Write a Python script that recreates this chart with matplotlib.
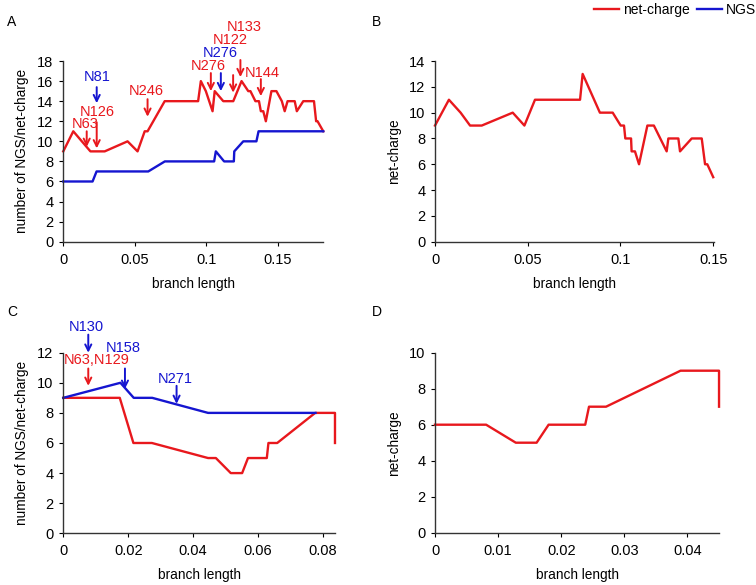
import matplotlib

matplotlib.use("Agg")
import matplotlib.pyplot as plt

plt.rcParams.update(
    {
        "font.family": ["Liberation Sans", "DejaVu Sans"],
        "font.size": 10,
        "axes.spines.top": False,
        "axes.spines.right": False,
        "axes.edgecolor": "#333333",
        "axes.linewidth": 1.0,
        "xtick.major.size": 3,
        "ytick.major.size": 3,
        "xtick.major.pad": 5,
        "ytick.major.pad": 4,
        "xtick.labelsize": 10.5,
        "ytick.labelsize": 10.5,
        "axes.labelsize": 9.8,
    }
)

RED = "#E8181D"
BLUE = "#1515D0"

# ---- panel A ----
a_charge_x = [0, 0.007, 0.013, 0.019, 0.029, 0.045, 0.052, 0.057, 0.059, 0.071, 0.0944,
              0.0963, 0.0998, 0.1045, 0.106, 0.112, 0.119, 0.1248, 0.1295, 0.131, 0.1345,
              0.137, 0.1383, 0.140, 0.1418, 0.1457, 0.1492, 0.153, 0.155, 0.157, 0.162,
              0.1635, 0.168, 0.1755, 0.177, 0.178, 0.182]
a_charge_y = [9, 11, 10, 9, 9, 10, 9, 11, 11, 14, 14,
              16, 15, 13, 15, 14, 14, 16, 15, 15, 14,
              14, 13, 13, 12, 15, 15, 14, 13, 14, 14,
              13, 14, 14, 12, 12, 11]
a_ngs_x = [0, 0.0205, 0.0233, 0.0595, 0.0711, 0.1056, 0.1068, 0.1126, 0.1194, 0.1197,
           0.126, 0.1352, 0.1367, 0.182]
a_ngs_y = [6, 6, 7, 7, 8, 8, 9, 8, 8, 9, 10, 10, 11, 11]

# annotations: label, colour, arrow x, arrow top y, arrow tip y, text x, text y
a_notes = [
    ("N81", BLUE, 0.0234, 15.4, 13.8, 0.0234, 16.4),
    ("N126", RED, 0.0234, 11.9, 9.3, 0.0238, 12.9),
    ("N63", RED, 0.0164, 11.0, 9.45, 0.0156, 11.7),
    ("N246", RED, 0.059, 14.2, 12.45, 0.0578, 15.0),
    ("N276", RED, 0.1033, 16.8, 15.0, 0.1014, 17.5),
    ("N276", BLUE, 0.1103, 16.8, 15.0, 0.1096, 18.8),
    ("N122", RED, 0.1189, 16.6, 14.85, 0.1166, 20.1),
    ("N133", RED, 0.124, 18.1, 16.4, 0.1264, 21.4),
    ("N144", RED, 0.1383, 16.2, 14.5, 0.1395, 16.8),
]

# ---- panel B ----
b_charge_x = [0, 0.0075, 0.0138, 0.0189, 0.0252, 0.0419, 0.0482, 0.0539, 0.0782, 0.0796,
              0.0889, 0.0958, 0.1001, 0.1019, 0.1026, 0.1057, 0.106, 0.1078, 0.110, 0.1145,
              0.118, 0.1249, 0.1258, 0.1312, 0.1321, 0.1384, 0.1438, 0.1456, 0.1468, 0.150]
b_charge_y = [9, 11, 10, 9, 9, 10, 9, 11, 11, 13,
              10, 10, 9, 9, 8, 8, 7, 7, 6, 9,
              9, 7, 8, 8, 7, 8, 8, 6, 6, 5]

# ---- panel C ----
c_charge_x = [0, 0.0174, 0.0216, 0.0273, 0.0446, 0.047, 0.0516, 0.0551, 0.0569, 0.0627,
              0.0632, 0.0659, 0.0776, 0.0837, 0.0837]
c_charge_y = [9, 9, 6, 6, 5, 5, 4, 4, 5, 5, 6, 6, 8, 8, 6]
c_ngs_x = [0, 0.0176, 0.0217, 0.0274, 0.0446, 0.0777]
c_ngs_y = [9, 10, 9, 9, 8, 8]
c_notes = [
    ("N130", BLUE, 0.0077, 13.2, 12.0, 0.0070, 13.7),
    ("N63,N129", RED, 0.0077, 10.95, 9.8, 0.0102, 11.5),
    ("N158", BLUE, 0.0190, 10.95, 9.6, 0.0186, 12.3),
    ("N271", BLUE, 0.0349, 9.8, 8.6, 0.0345, 10.25),
]

# ---- panel D ----
d_charge_x = [0, 0.0081, 0.0128, 0.0161, 0.018, 0.0238, 0.0244, 0.0271, 0.0389, 0.045, 0.045]
d_charge_y = [6, 6, 5, 5, 6, 6, 7, 7, 9, 9, 7]

fig = plt.figure(figsize=(7.56, 5.85), dpi=100)

ax_a = fig.add_axes([0.0837, 0.5868, 0.3439, 0.3089])
ax_b = fig.add_axes([0.5754, 0.5868, 0.3690, 0.3089])
ax_c = fig.add_axes([0.0837, 0.0884, 0.3594, 0.3087])
ax_d = fig.add_axes([0.5754, 0.0894, 0.3757, 0.3077])


def style(ax, xmax, xticks, xlabels, ymax, ylabel):
    ax.set_xlim(0, xmax)
    ax.set_ylim(0, ymax)
    ax.set_xticks(xticks, xlabels)
    ax.set_yticks(range(0, ymax + 1, 2))
    ax.set_xlabel("branch length", labelpad=7)
    ax.set_ylabel(ylabel, labelpad=6)
    for side in ("left", "bottom"):
        ax.spines[side].set_clip_on(False)


def annotate(ax, notes):
    for label, color, x, y0, y1, tx, ty in notes:
        ax.annotate(
            "",
            xy=(x, y1),
            xytext=(x, y0),
            arrowprops=dict(arrowstyle="->", color=color, lw=1.4, shrinkA=0, shrinkB=0,
                            mutation_scale=11),
            annotation_clip=False,
        )
        ax.text(tx, ty, label, color=color, fontsize=10.5, ha="center", va="center",
                clip_on=False)


line_charge, = ax_a.plot(a_charge_x, a_charge_y, color=RED, lw=1.7, clip_on=False)
line_ngs, = ax_a.plot(a_ngs_x, a_ngs_y, color=BLUE, lw=1.7, clip_on=False)
style(ax_a, 0.182, [0, 0.05, 0.1, 0.15], ["0", "0.05", "0.1", "0.15"], 18,
      "number of NGS/net-charge")
annotate(ax_a, a_notes)

ax_b.plot(b_charge_x, b_charge_y, color=RED, lw=1.7, clip_on=False)
style(ax_b, 0.1504, [0, 0.05, 0.1, 0.15], ["0", "0.05", "0.1", "0.15"], 14, "net-charge")

ax_c.plot(c_charge_x, c_charge_y, color=RED, lw=1.7, clip_on=False)
ax_c.plot(c_ngs_x, c_ngs_y, color=BLUE, lw=1.7, clip_on=False)
style(ax_c, 0.0837, [0, 0.02, 0.04, 0.06, 0.08], ["0", "0.02", "0.04", "0.06", "0.08"], 12,
      "number of NGS/net-charge")
annotate(ax_c, c_notes)

ax_d.plot(d_charge_x, d_charge_y, color=RED, lw=1.7, clip_on=False)
style(ax_d, 0.045, [0, 0.01, 0.02, 0.03, 0.04], ["0", "0.01", "0.02", "0.03", "0.04"], 10,
      "net-charge")

for letter, x, y in [("A", 7, 22), ("B", 372, 22), ("C", 7, 312), ("D", 372, 312)]:
    fig.text(x / 756, 1 - y / 585, letter, fontsize=10, ha="left", va="center")

fig.legend(
    [line_charge, line_ngs],
    ["net-charge", "NGS"],
    loc="upper right",
    bbox_to_anchor=(1.016, 1.016),
    ncol=2,
    frameon=False,
    fontsize=10,
    handlelength=1.8,
    handletextpad=0.25,
    columnspacing=0.55,
)

fig.savefig("out.png", dpi=100)
